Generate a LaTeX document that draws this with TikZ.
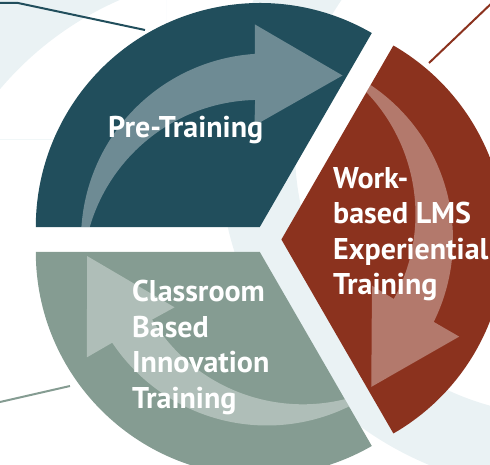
\documentclass[tikz,border=0pt]{standalone}
\usepackage{fontspec}
\setmainfont{PT Sans}
\definecolor{pretrain}{RGB}{33,78,92}
\definecolor{workbased}{RGB}{139,50,30}
\definecolor{classroom}{RGB}{133,156,146}
\definecolor{ringlight}{RGB}{234,242,244}
\tikzset{
  seglabel/.style={text=white, font=\bfseries\fontsize{30}{35.5}\selectfont, align=left, anchor=base west, inner sep=0pt},
  swirl/.style={fill=white, fill opacity=0.35},
  leader/.style={line width=2pt},
}
\begin{document}
\begin{tikzpicture}[x=1pt,y=1pt]
\useasboundingbox (-267,-225.5) rectangle (223,239.5);
\clip (-267,-225.5) rectangle (223,239.5);
% light rings behind
\fill[ringlight, even odd rule] (293,89.5) circle[radius=341] (293,89.5) circle[radius=265];
\begin{scope}
  \clip (-267,239.5) rectangle (-100,100);
  \fill[ringlight, even odd rule] (-267,239.5) rectangle (-100,100) (-17,-60.5) circle[radius=327];
\end{scope}
% three sectors, each with its curved arrow
\foreach \ang/\col in {120/pretrain, 0/workbased, 240/classroom}{
  \fill[\col] (\ang:14.4) -- ++(\ang-60:224) arc[start angle=\ang-60, end angle=\ang+60, radius=224] -- cycle;
  \begin{scope}
    \clip (\ang:14.4) -- ++(\ang-60:224) arc[start angle=\ang-60, end angle=\ang+60, radius=224] -- cycle;
    \fill[swirl, rotate=\ang-120] (93.7:186) arc[start angle=93.7, end angle=189, radius=186]
      -- ([shift={(-7.9,-36.7)}]177.5:176.3) arc[start angle=177.5, end angle=91.3, radius=176.3]
      -- (-12.5,114) -- (75.5,164) -- (-12,215) -- cycle;
  \end{scope}
}
% labels (anchor is the baseline of the last line)
\node[seglabel] (pre) at (-159,101.5) {Pre-Training};
\node[seglabel] (work) at (66,-55.5) {Work-\\based LMS\\Experiential\\Training};
\node[seglabel] (class) at (-135,-169) {Classroom\\Based\\Innovation\\Training};
% leader lines
\coordinate (t1) at (-267,236.5);
\coordinate (t2) at (-249,236.5);
\coordinate (t3) at (-122,209.5);
\coordinate (r1) at (162,176.5);
\coordinate (r2) at (228,239.5);
\coordinate (g1) at (-267,-162.5);
\coordinate (g2) at (-197,-146.5);
\draw[leader, pretrain] (t1) -- (t2) -- (t3);
\draw[leader, workbased] (r1) -- (r2);
\draw[leader, classroom] (g1) -- (g2);
\end{tikzpicture}
\end{document}
